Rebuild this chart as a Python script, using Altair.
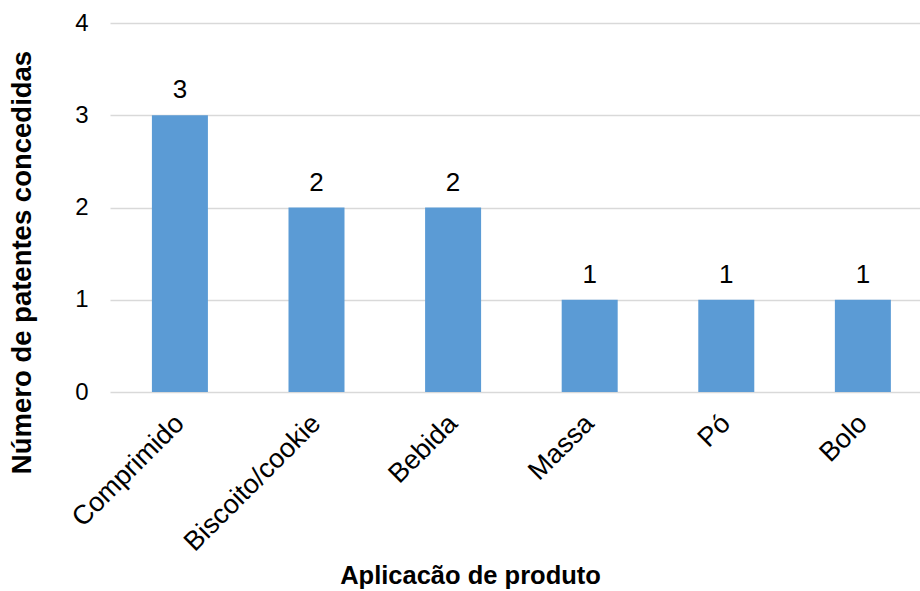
import altair as alt
import pandas as pd

# Patentes concedidas por aplicação de produto
categorias = ["Comprimido", "Biscoito/cookie", "Bebida", "Massa", "Pó", "Bolo"]
patentes = [3, 2, 2, 1, 1, 1]
ticks_y = [0, 1, 2, 3, 4]

df = pd.DataFrame({"aplicacao": categorias, "patentes": patentes})

FONT = "Liberation Sans"
BAR_COLOR = "#5B9BD5"
GRID_COLOR = "#D9D9D9"

x_enc = alt.X(
    "aplicacao:N",
    sort=categorias,
    scale=alt.Scale(paddingInner=0.59, paddingOuter=0.26, align=0.59),
    axis=alt.Axis(
        title="Aplicacão de produto",
        labelAngle=-45,
        labelAlign="right",
        labelBaseline="middle",
        labelFontSize=27,
        labelFont=FONT,
        labelColor="black",
        labelPadding=27,
        labelLimit=400,
        ticks=False,
        domain=False,
        grid=False,
        titleFont=FONT,
        titleFontSize=25.5,
        titleFontWeight="bold",
        titleColor="black",
        titleX=360,
        titleY=191,
        titleAlign="center",
        titleBaseline="alphabetic",
    ),
)

y_enc = alt.Y(
    "patentes:Q",
    scale=alt.Scale(domain=[0, 4], nice=False),
    axis=alt.Axis(
        title="Número de patentes concedidas",
        values=ticks_y,
        format="d",
        labelFont=FONT,
        labelFontSize=24,
        labelColor="black",
        labelPadding=22,
        ticks=False,
        domain=False,
        grid=True,
        gridColor=GRID_COLOR,
        gridWidth=1.5,
        titleFont=FONT,
        titleFontSize=27.5,
        titleFontWeight="bold",
        titleColor="black",
        titleAngle=270,
        titleX=-88,
        titleY=239,
        titleAlign="center",
        titleBaseline="middle",
    ),
)

base = alt.Chart(df).encode(x=x_enc, y=y_enc)

bars = base.mark_bar(color=BAR_COLOR)

labels = base.mark_text(
    dy=-17,
    baseline="alphabetic",
    align="center",
    fontSize=26,
    font=FONT,
    color="black",
).encode(text="patentes:Q")

chart = (
    alt.layer(bars, labels)
    .properties(
        width=810,
        height=369,
        autosize=alt.AutoSizeParams(type="none"),
        padding={"left": 110, "top": 23, "right": 0, "bottom": 199},
        background="white",
    )
    .configure_view(stroke=None)
)

chart.save("out.html", embed_options={"renderer": "svg", "actions": False})
